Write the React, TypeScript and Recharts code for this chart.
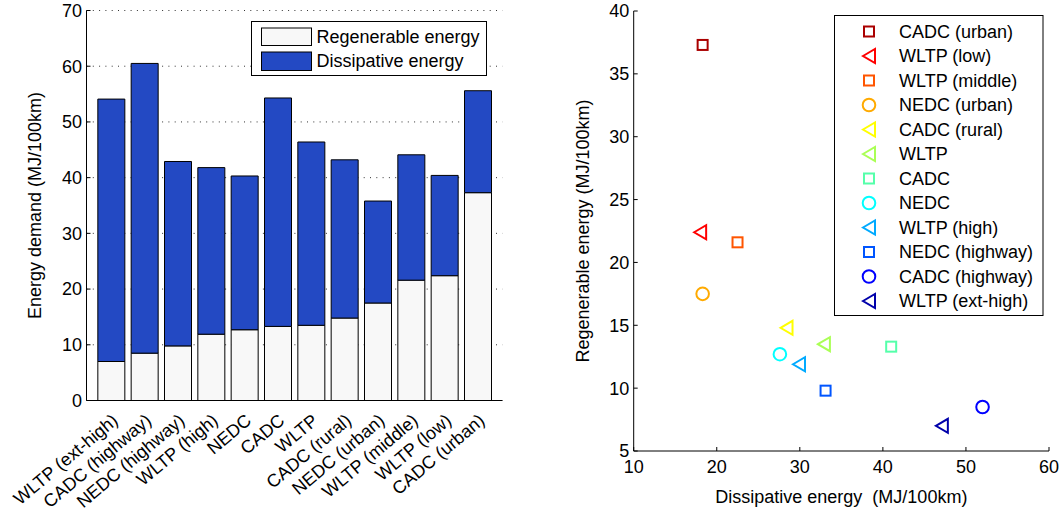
import React from 'react';
import { BarChart, Bar, XAxis, YAxis, CartesianGrid, Legend, ScatterChart, Scatter } from 'recharts';

const cycles = ['WLTP (ext-high)', 'CADC (highway)', 'NEDC (highway)', 'WLTP (high)', 'NEDC', 'CADC', 'WLTP', 'CADC (rural)', 'NEDC (urban)', 'WLTP (middle)', 'WLTP (low)', 'CADC (urban)'];
const regenerable = [7.0, 8.5, 9.8, 11.9, 12.7, 13.3, 13.5, 14.8, 17.5, 21.6, 22.4, 37.3];
const dissipative = [47.1, 52.0, 33.1, 29.9, 27.6, 41.0, 32.9, 28.4, 18.3, 22.5, 18.0, 18.3];
const markerKinds = ['<', 'o', 's', '<', 'o', 's', '<', '<', 'o', 's', '<', 's'];
const markerColors = ['#0000aa', '#0000ff', '#0055ff', '#00aaff', '#00ffff', '#55ffaa', '#aaff55', '#ffff00', '#ffaa00', '#ff5500', '#ff0000', '#aa0000'];
const barTicks = [0, 10, 20, 30, 40, 50, 60, 70];
const scatterXTicks = [10, 20, 30, 40, 50, 60];
const scatterYTicks = [5, 10, 15, 20, 25, 30, 35, 40];
const seriesNames = ['Regenerable energy', 'Dissipative energy'];

const FONT = '"Liberation Sans", Arial, Helvetica, sans-serif';
const FS = 18;
const REGEN_FILL = '#f8f8f8';
const DISS_FILL = '#2349c3';

const barData = cycles.map((c, i) => ({ name: c, regen: regenerable[i], diss: dissipative[i] }));
// scatter legend lists the cycles in reverse order
const scatterOrder = cycles.map((_, i) => cycles.length - 1 - i);

function Marker({ kind, color, cx, cy }: { kind: string; color: string; cx: number; cy: number }) {
  if (kind === 's') {
    return <rect x={cx - 5} y={cy - 5} width={10} height={10} fill="none" stroke={color} strokeWidth={2} />;
  }
  if (kind === 'o') {
    return <circle cx={cx} cy={cy} r={6.3} fill="none" stroke={color} strokeWidth={2} />;
  }
  return (
    <polygon
      points={`${cx - 6},${cy} ${cx + 6},${cy - 7} ${cx + 6},${cy + 7}`}
      fill="none"
      stroke={color}
      strokeWidth={2}
      strokeLinejoin="miter"
    />
  );
}

const CycleTick = (props: any) => {
  const { x, y, payload } = props;
  const ax = x + 8;
  const ay = y + 22;
  return (
    <text x={ax} y={ay} transform={`rotate(-40 ${ax} ${ay})`} textAnchor="end" fontSize={FS} fontFamily={FONT} fill="#000">
      {payload.value}
    </text>
  );
};

const BarLegend = () => (
  <svg width={237} height={56} style={{ display: 'block' }}>
    <rect x={0.5} y={0.5} width={235} height={54} fill="#fff" stroke="#000" strokeWidth={1} />
    <rect x={10.5} y={7} width={50} height={17.5} fill={REGEN_FILL} stroke="#000" strokeWidth={1} />
    <rect x={10.5} y={31} width={50} height={18.5} fill={DISS_FILL} stroke="#000" strokeWidth={1} />
    <text x={65.5} y={16} dominantBaseline="central" fontSize={FS} fontFamily={FONT} fill="#000">{seriesNames[0]}</text>
    <text x={65.5} y={40} dominantBaseline="central" fontSize={FS} fontFamily={FONT} fill="#000">{seriesNames[1]}</text>
  </svg>
);

const ScatterLegend = () => (
  <svg width={210} height={302} style={{ display: 'block' }}>
    <rect x={0.5} y={0.5} width={208.5} height={300} fill="#fff" stroke="#000" strokeWidth={1} />
    {scatterOrder.map((idx, k) => {
      const cy = 16.5 + k * 24.5;
      return (
        <g key={idx}>
          <Marker kind={markerKinds[idx]} color={markerColors[idx]} cx={35} cy={cy} />
          <text x={65} y={cy} dominantBaseline="central" fontSize={FS} fontFamily={FONT} fill="#000">{cycles[idx]}</text>
        </g>
      );
    })}
  </svg>
);

const tickStyle = { fontSize: FS, fill: '#000', fontFamily: FONT };

export default function App() {
  return (
    <div style={{ position: 'absolute', left: 0, top: 0, width: 1063, height: 515, background: '#fff', overflow: 'hidden' }}>
      <div style={{ position: 'absolute', left: 0, top: 0 }}>
        <BarChart
          width={560}
          height={515}
          data={barData}
          margin={{ top: 10.5, right: 57.5, left: 0, bottom: 0 }}
          barCategoryGap="10%"
        >
          <CartesianGrid vertical={false} stroke="#333" strokeDasharray="1 5.3" />
          <XAxis
            dataKey="name"
            height={114.5}
            padding={{ left: 8, right: 8 }}
            interval={0}
            tick={<CycleTick />}
            tickLine={false}
            tickSize={0}
            tickMargin={0}
            axisLine={{ stroke: '#000', strokeWidth: 1 }}
          />
          <XAxis
            xAxisId="top"
            dataKey="name"
            orientation="top"
            mirror
            height={0}
            padding={{ left: 8, right: 8 }}
            interval={0}
            tick={false}
            tickSize={4}
            tickLine={{ stroke: '#000' }}
            axisLine={{ stroke: '#000', strokeWidth: 1 }}
          />
          <YAxis
            width={86.5}
            domain={[0, 70]}
            ticks={barTicks}
            type="number"
            tick={tickStyle}
            tickSize={-4}
            tickMargin={8.5}
            tickLine={{ stroke: '#000' }}
            axisLine={{ stroke: '#000', strokeWidth: 1 }}
            label={{
              content: (p: any) => {
                const vb = p.viewBox;
                const cx = vb.x + 35;
                const cy = vb.y + vb.height / 2;
                return (
                  <text x={cx} y={cy} transform={`rotate(-90 ${cx} ${cy})`} textAnchor="middle" dominantBaseline="central" fontSize={FS} fontFamily={FONT} fill="#000">
                    Energy demand (MJ/100km)
                  </text>
                );
              },
            }}
          />
          <YAxis
            yAxisId="right"
            orientation="right"
            mirror
            width={0}
            domain={[0, 70]}
            ticks={barTicks}
            type="number"
            tick={false}
            tickSize={4}
            tickLine={{ stroke: '#000' }}
            axisLine={{ stroke: '#000', strokeWidth: 1 }}
          />
          <Legend
            layout="horizontal"
            verticalAlign="middle"
            align="center"
            wrapperStyle={{ left: 250.5, top: 20.5, width: 237, height: 56 }}
            content={() => <BarLegend />}
          />
          <Bar dataKey="regen" name={seriesNames[0]} stackId="e" fill={REGEN_FILL} stroke="#000" strokeWidth={1} isAnimationActive={false} />
          <Bar dataKey="diss" name={seriesNames[1]} stackId="e" fill={DISS_FILL} stroke="#000" strokeWidth={1} isAnimationActive={false} />
        </BarChart>
      </div>
      <div style={{ position: 'absolute', left: 560, top: 0 }}>
        <ScatterChart width={503} height={515} margin={{ top: 11, right: 14, left: 0, bottom: 0 }}>
          <XAxis
            type="number"
            dataKey="x"
            domain={[10, 60]}
            ticks={scatterXTicks}
            height={64}
            tick={tickStyle}
            tickSize={-4}
            tickMargin={13}
            tickLine={{ stroke: '#000' }}
            axisLine={{ stroke: '#000', strokeWidth: 1 }}
            label={{
              content: (p: any) => {
                const vb = p.viewBox;
                const cx = vb.x + vb.width / 2;
                const cy = vb.y + 46;
                return (
                  <text x={cx} y={cy} textAnchor="middle" dominantBaseline="central" fontSize={FS} fontFamily={FONT} fill="#000" style={{ whiteSpace: 'pre' }}>
                    {'Dissipative energy  (MJ/100km)'}
                  </text>
                );
              },
            }}
          />
          <YAxis
            type="number"
            dataKey="y"
            width={73.7}
            domain={[5, 40]}
            ticks={scatterYTicks}
            tick={tickStyle}
            tickSize={-4}
            tickMargin={8.5}
            tickLine={{ stroke: '#000' }}
            axisLine={{ stroke: '#000', strokeWidth: 1 }}
            label={{
              content: (p: any) => {
                const vb = p.viewBox;
                const cx = vb.x + 23;
                const cy = vb.y + vb.height / 2;
                return (
                  <text x={cx} y={cy} transform={`rotate(-90 ${cx} ${cy})`} textAnchor="middle" dominantBaseline="central" fontSize={FS} fontFamily={FONT} fill="#000">
                    Regenerable energy (MJ/100km)
                  </text>
                );
              },
            }}
          />
          <Legend
            layout="horizontal"
            verticalAlign="middle"
            align="center"
            wrapperStyle={{ left: 274, top: 14.5, width: 210, height: 302 }}
            content={() => <ScatterLegend />}
          />
          {cycles.map((c, i) => (
            <Scatter
              key={c}
              name={c}
              data={[{ x: dissipative[i], y: regenerable[i] }]}
              isAnimationActive={false}
              shape={(p: any) => <Marker kind={markerKinds[i]} color={markerColors[i]} cx={p.cx} cy={p.cy} />}
            />
          ))}
        </ScatterChart>
      </div>
    </div>
  );
}
